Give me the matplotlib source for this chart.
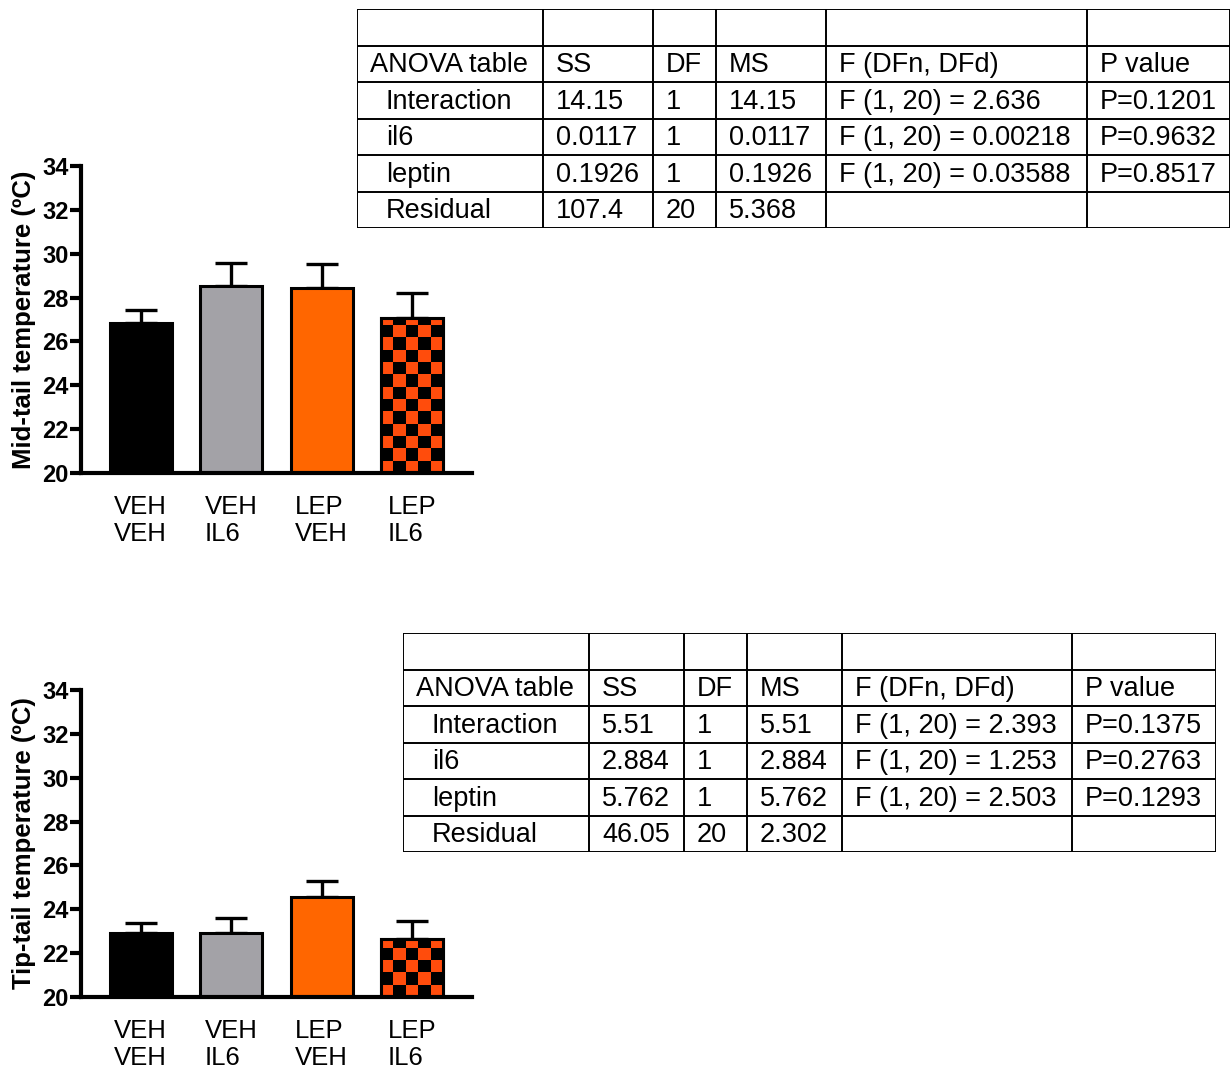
import numpy as np
import matplotlib
matplotlib.use("Agg")
import matplotlib.pyplot as plt
from matplotlib.colors import ListedColormap

plt.rcParams['font.family'] = ['Liberation Sans', 'DejaVu Sans']

# ---------------- data ----------------
group_line1 = ["VEH", "VEH", "LEP", "LEP"]
group_line2 = ["VEH", "IL6", "VEH", "IL6"]

mid_mean = [26.86, 28.55, 28.43, 27.08]
mid_sem = [0.56, 1.02, 1.08, 1.15]
tip_mean = [22.94, 22.90, 24.57, 22.64]
tip_sem = [0.42, 0.71, 0.70, 0.82]

yticks = [20, 22, 24, 26, 28, 30, 32, 34]

table_header = ["ANOVA table", "SS", "DF", "MS", "F (DFn, DFd)", "P value"]
row_names = ["Interaction", "il6", "leptin", "Residual"]

mid_ss = ["14.15", "0.0117", "0.1926", "107.4"]
mid_df = ["1", "1", "1", "20"]
mid_ms = ["14.15", "0.0117", "0.1926", "5.368"]
mid_f = ["F (1, 20) = 2.636", "F (1, 20) = 0.00218", "F (1, 20) = 0.03588", ""]
mid_p = ["P=0.1201", "P=0.9632", "P=0.8517", ""]

tip_ss = ["5.51", "2.884", "5.762", "46.05"]
tip_df = ["1", "1", "1", "20"]
tip_ms = ["5.51", "2.884", "5.762", "2.302"]
tip_f = ["F (1, 20) = 2.393", "F (1, 20) = 1.253", "F (1, 20) = 2.503", ""]
tip_p = ["P=0.1375", "P=0.2763", "P=0.1293", ""]

# ---------------- styles ----------------
bar_colors = ["#000000", "#A3A2A7", "#FF6600", None]
checker_orange = "#FF4C0C"
W_PX, H_PX = 1232, 1074

fig = plt.figure(figsize=(W_PX / 100, H_PX / 100), dpi=100)


def bar_panel(rect, means, sems, ylabel):
    ax = fig.add_axes(rect)
    x = np.arange(len(means))
    width = 0.68
    base = 20
    heights = [m - base for m in means]
    ax.errorbar(x, means, yerr=[[0] * len(sems), sems], fmt='none',
                ecolor='black', elinewidth=2.4, capsize=11.5, capthick=2.4,
                zorder=1)
    bars = ax.bar(x, heights, width=width, bottom=base,
                  color=[c if c else "black" for c in bar_colors],
                  edgecolor='black', linewidth=2.2, zorder=2)
    # checkerboard bar
    b = bars[3]
    x0 = b.get_x()
    ncols = 5
    sq_h = 0.56
    nrows = int(np.ceil(heights[3] / sq_h))
    grid = (np.add.outer(np.arange(nrows), np.arange(ncols)) % 2)
    cmap = ListedColormap([checker_orange, "black"])
    im = ax.imshow(grid, cmap=cmap, origin='lower', interpolation='nearest',
                   aspect='auto',
                   extent=[x0, x0 + width, base, base + nrows * sq_h],
                   zorder=2.5, vmin=0, vmax=1)
    im.set_clip_path(b)
    ax.bar([x[3]], [heights[3]], width=width, bottom=base, color='none',
           edgecolor='black', linewidth=2.2, zorder=3)

    ax.set_xlim(-0.66, 3.66)
    ax.set_ylim(20, 34)
    ax.set_yticks(yticks)
    ax.set_yticklabels([str(t) for t in yticks], fontsize=17,
                       fontweight='bold')
    ax.set_xticks(x)
    ax.set_xticklabels([f"{a}\n{b_}" for a, b_ in zip(group_line1, group_line2)],
                       fontsize=18.5, multialignment='left', linespacing=1.15)
    ax.tick_params(axis='x', length=0, pad=16)
    ax.tick_params(axis='y', length=8, width=3, pad=1, direction='out')
    for s in ['top', 'right']:
        ax.spines[s].set_visible(False)
    for s in ['left', 'bottom']:
        ax.spines[s].set_linewidth(3)
    ax.set_ylabel(ylabel, fontsize=18.5, fontweight='bold', labelpad=4)
    ax.patch.set_alpha(0)
    return ax


def anova_table(x_left, y_top, col_edges, row_h, n_rows, cols):
    w = col_edges[-1]
    h = row_h * n_rows
    ax = fig.add_axes([x_left / W_PX, 1 - (y_top + h) / H_PX, w / W_PX, h / H_PX])
    ax.set_xlim(0, w)
    ax.set_ylim(h, 0)
    ax.axis('off')
    lw = 1.4
    for xe in col_edges:
        ax.plot([xe, xe], [0, h], color='black', lw=lw, solid_capstyle='projecting')
    for r in range(n_rows + 1):
        ax.plot([0, w], [r * row_h, r * row_h], color='black', lw=lw,
                solid_capstyle='projecting')
    # header row (row 1; row 0 is blank)
    for c, txt in enumerate(table_header):
        ax.text(col_edges[c] + 13, 1.5 * row_h + 1.5, txt, fontsize=19.5,
                ha='left', va='center')
    for r in range(len(row_names)):
        yc = (r + 2.5) * row_h + 1.5
        for c, column in enumerate(cols):
            txt = column[r]
            pad = 29 if c == 0 else 13
            ax.text(col_edges[c] + pad, yc, txt, fontsize=19.5,
                    ha='left', va='center')
    return ax


bar_panel([81 / W_PX, 1 - 473 / H_PX, 391 / W_PX, 307 / H_PX],
          mid_mean, mid_sem, "Mid-tail temperature (ºC)")
bar_panel([81 / W_PX, 1 - 997 / H_PX, 391 / W_PX, 307 / H_PX],
          tip_mean, tip_sem, "Tip-tail temperature (ºC)")

anova_table(357, 9, [0, 186, 296, 359, 469, 730, 873], 36.5, 6,
            [row_names, mid_ss, mid_df, mid_ms, mid_f, mid_p])
anova_table(403, 633, [0, 186, 281, 344, 439, 669, 813], 36.5, 6,
            [row_names, tip_ss, tip_df, tip_ms, tip_f, tip_p])

fig.savefig("out.png", dpi=100, facecolor='white')
